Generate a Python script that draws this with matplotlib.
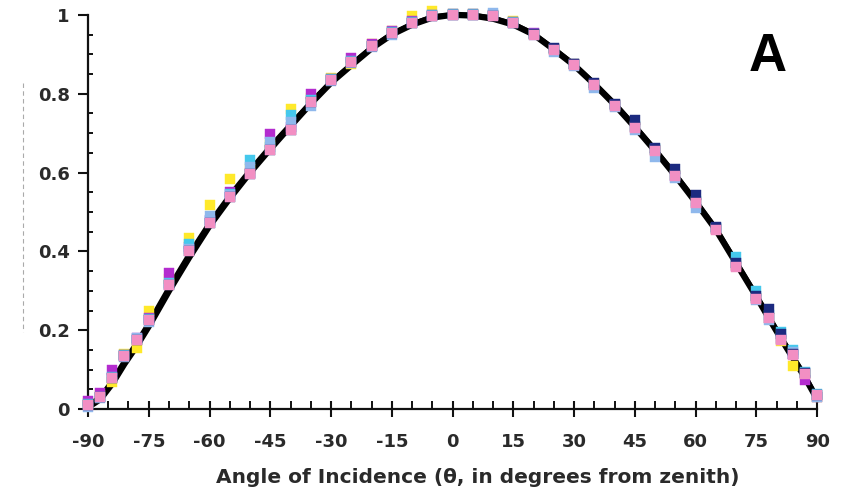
import matplotlib
matplotlib.use("Agg")
import matplotlib.pyplot as plt
from matplotlib.ticker import MultipleLocator
from matplotlib.lines import Line2D

plt.rcParams['font.family'] = ['DejaVu Sans']

angles = [-90, -87, -84, -81, -78, -75, -70, -65, -60, -55, -50, -45, -40, -35, -30,
          -25, -20, -15, -10, -5, 0, 5, 10, 15, 20, 25, 30, 35, 40, 45, 50, 55, 60,
          65, 70, 75, 78, 81, 84, 87, 90]

model_a = [0.005, 0.025, 0.065, 0.115, 0.160, 0.210, 0.300, 0.385, 0.465, 0.535, 0.600,
           0.660, 0.718, 0.775, 0.828, 0.872, 0.915, 0.950, 0.975, 0.993, 1.000, 0.998,
           0.990, 0.975, 0.950, 0.912, 0.872, 0.824, 0.772, 0.715, 0.655, 0.592, 0.525,
           0.455, 0.370, 0.285, 0.232, 0.180, 0.130, 0.080, 0.025]
model_b = [0.010, 0.030, 0.072, 0.122, 0.168, 0.218, 0.308, 0.393, 0.472, 0.542, 0.606,
           0.666, 0.722, 0.778, 0.830, 0.874, 0.917, 0.952, 0.977, 0.995, 1.000, 0.999,
           0.992, 0.977, 0.952, 0.914, 0.874, 0.826, 0.775, 0.718, 0.658, 0.595, 0.528,
           0.458, 0.373, 0.288, 0.236, 0.184, 0.134, 0.084, 0.028]

yellow = [0.015, 0.035, 0.070, 0.140, 0.155, 0.250, 0.330, 0.433, 0.518, 0.584, 0.610,
          0.670, 0.760, 0.790, 0.840, 0.875, 0.925, 0.960, 0.998, 1.010, 1.003, 1.002,
          1.000, 0.985, 0.952, 0.912, 0.875, 0.825, 0.772, 0.716, 0.658, 0.594, 0.525,
          0.458, 0.365, 0.282, 0.232, 0.172, 0.110, 0.088, 0.030]
magenta = [0.020, 0.042, 0.100, 0.138, 0.180, 0.232, 0.345, 0.410, 0.480, 0.550, 0.600,
           0.698, 0.715, 0.800, 0.838, 0.890, 0.925, 0.958, 0.985, 1.000, 1.002, 1.003,
           1.000, 0.982, 0.955, 0.912, 0.875, 0.823, 0.772, 0.715, 0.657, 0.592, 0.524,
           0.457, 0.362, 0.283, 0.232, 0.178, 0.139, 0.074, 0.030]
cyan = [0.012, 0.032, 0.082, 0.137, 0.178, 0.228, 0.320, 0.420, 0.478, 0.545, 0.632,
        0.665, 0.746, 0.785, 0.838, 0.882, 0.922, 0.956, 0.982, 0.999, 1.001, 1.001,
        0.999, 0.981, 0.951, 0.912, 0.874, 0.823, 0.771, 0.718, 0.660, 0.595, 0.528,
        0.460, 0.385, 0.300, 0.240, 0.196, 0.150, 0.095, 0.038]
lightblue = [0.005, 0.028, 0.078, 0.132, 0.180, 0.222, 0.318, 0.405, 0.490, 0.542, 0.614,
             0.678, 0.728, 0.770, 0.832, 0.878, 0.918, 0.948, 0.978, 0.996, 0.999, 1.000,
             1.005, 0.978, 0.948, 0.906, 0.870, 0.815, 0.765, 0.708, 0.640, 0.585, 0.510,
             0.460, 0.370, 0.278, 0.226, 0.180, 0.145, 0.092, 0.032]
navy = [0.010, 0.030, 0.080, 0.135, 0.175, 0.225, 0.315, 0.400, 0.472, 0.538, 0.596,
        0.657, 0.708, 0.780, 0.835, 0.880, 0.920, 0.954, 0.980, 0.998, 1.000, 1.000,
        0.998, 0.980, 0.952, 0.915, 0.876, 0.826, 0.775, 0.733, 0.662, 0.610, 0.543,
        0.462, 0.370, 0.288, 0.254, 0.190, 0.140, 0.092, 0.036]
pink = [0.010, 0.030, 0.080, 0.135, 0.175, 0.225, 0.315, 0.400, 0.472, 0.538, 0.596,
        0.657, 0.708, 0.780, 0.835, 0.880, 0.920, 0.954, 0.980, 0.998, 1.000, 1.000,
        0.998, 0.980, 0.950, 0.910, 0.873, 0.822, 0.770, 0.713, 0.655, 0.590, 0.522,
        0.455, 0.360, 0.280, 0.230, 0.175, 0.137, 0.090, 0.035]

series = [
    (yellow, '#ffe92a'),
    (magenta, '#b42ccf'),
    (cyan, '#45c8ec'),
    (lightblue, '#8fb8ec'),
    (navy, '#1c2a80'),
    (pink, '#f28fc3'),
]

x_ticks = [-90, -75, -60, -45, -30, -15, 0, 15, 30, 45, 60, 75, 90]
y_ticks = [0, 0.2, 0.4, 0.6, 0.8, 1]
y_tick_labels = ['0', '0.2', '0.4', '0.6', '0.8', '1']

fig = plt.figure(figsize=(8.46, 4.93), dpi=100)
ax = fig.add_axes([0.104, 0.170, 0.862, 0.800])

ax.plot(angles, model_b, color='black', lw=3.5, solid_capstyle='round', zorder=2, clip_on=False)
ax.plot(angles, model_a, color='black', lw=4.5, solid_capstyle='round', zorder=2, clip_on=False)
for vals, col in series:
    ax.plot(angles, vals, linestyle='none', marker='s', markersize=7.2,
            markerfacecolor=col, markeredgecolor=col, markeredgewidth=0.3,
            zorder=3, clip_on=False)

ax.set_xlim(-90, 90)
ax.set_ylim(0, 1)
ax.set_xticks(x_ticks)
ax.set_xticklabels([str(t) for t in x_ticks])
ax.set_yticks(y_ticks)
ax.set_yticklabels(y_tick_labels)
ax.xaxis.set_minor_locator(MultipleLocator(5))
ax.yaxis.set_minor_locator(MultipleLocator(0.05))

for s in ['top', 'right']:
    ax.spines[s].set_visible(False)
for s in ['left', 'bottom']:
    ax.spines[s].set_linewidth(1.6)
    ax.spines[s].set_color('#111111')

lab_col = '#2a2a2a'
ax.tick_params(axis='x', which='major', direction='inout', length=11, width=1.5,
               pad=12, labelsize=13, labelcolor=lab_col, color='#111111')
ax.tick_params(axis='x', which='minor', direction='in', length=6, width=1.4, color='#111111')
ax.tick_params(axis='y', which='major', direction='out', length=7, width=1.5,
               pad=6, labelsize=13, labelcolor=lab_col, color='#111111')
ax.tick_params(axis='y', which='minor', direction='in', length=3.6, width=1.4, color='#111111')
for lbl in ax.get_xticklabels() + ax.get_yticklabels():
    lbl.set_fontweight('bold')

ax.set_xlabel('Angle of Incidence (\u03b8, in degrees from zenith)', fontsize=14.5,
              fontweight='bold', color=lab_col)
ax.xaxis.set_label_coords(0.534, -0.150)

fig.text(0.908, 0.885, 'A', fontsize=38, fontweight='bold', color='black',
         ha='center', va='center', family='Liberation Sans')

fig.add_artist(Line2D([0.027, 0.027], [0.832, 0.327], transform=fig.transFigure,
                      color='#aaaaaa', lw=0.8, linestyle=(0, (4, 3))))

fig.savefig('out.png', dpi=100)
